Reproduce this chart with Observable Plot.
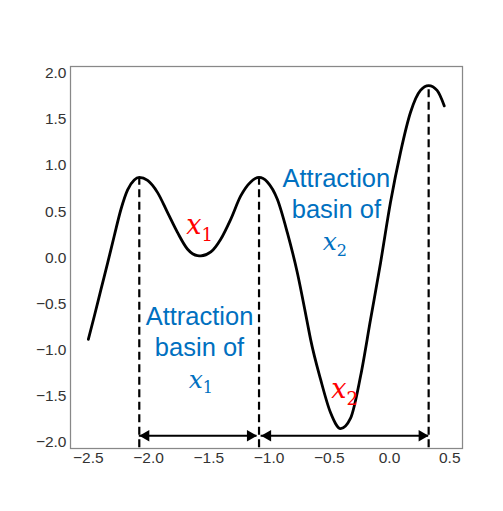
<!DOCTYPE html>
<html><head><meta charset="utf-8">
<script src="https://cdn.jsdelivr.net/npm/d3@7"></script>
<script src="https://cdn.jsdelivr.net/npm/@observablehq/plot@0.6"></script>
<style>
html,body{margin:0;padding:0;background:#fff;}
#topline{position:absolute;top:5px;left:7px;right:0;border-top:1.5px solid #e4e4e4;}
#chart{position:absolute;top:0;left:0;}
</style></head><body>
<div id="topline"></div><div id="chart"></div>
<script>
// Curve f(x), values
const curveX = [-2.500,-2.450,-2.395,-2.339,-2.285,-2.229,-2.174,-2.119,-2.077,-2.008,-1.925,-1.842,-1.759,-1.676,-1.594,-1.566,-1.483,-1.401,-1.318,-1.235,-1.152,-1.083,-1.014,-0.931,-0.848,-0.765,-0.682,-0.655,-0.572,-0.489,-0.406,-0.323,-0.240,-0.157,-0.074,0.008,0.091,0.174,0.257,0.325,0.395,0.455];
const curveY = [-0.885,-0.632,-0.343,-0.054,0.235,0.525,0.735,0.843,0.870,0.837,0.705,0.488,0.271,0.091,0.022,0.020,0.062,0.200,0.416,0.669,0.821,0.870,0.821,0.633,0.271,-0.163,-0.705,-0.885,-1.319,-1.681,-1.852,-1.739,-1.283,-0.668,-0.054,0.597,1.139,1.573,1.813,1.864,1.813,1.645];

// Local maxima bounding the basins
const peakX = [-2.077, -1.083, 0.325];
const peakY = [0.870, 0.870, 1.864];
const dashBottom = -2.06;

// Basin arrows (start, end) at a fixed level
const arrowStart = [-2.077, -1.066];
const arrowEnd = [-1.100, 0.325];
const arrowLevel = -1.93;

// Text annotations
const basinCenterX = [-1.577, -0.441];
const basinLine1Y = [-0.73, 0.767];
const basinLine2Y = [-1.066, 0.434];
const basinWords = ["Attraction", "basin of"];
const basinVarX = [-1.550, -0.437];
const basinVarY = [-1.41, 0.08];
const minLabelX = [-1.560, -0.357];
const minLabelY = [0.254, -1.518];
const subscripts = ["1", "2"];

const xTicks = [-2.5,-2.0,-1.5,-1.0,-0.5,0.0,0.5];
const yTicks = [-2.0,-1.5,-1.0,-0.5,0.0,0.5,1.0,1.5,2.0];

const curve = curveX.map((x,i)=>({x, y: curveY[i]}));
const peaks = peakX.map((x,i)=>({x, y: peakY[i], y0: dashBottom}));
const arrows = arrowStart.map((a,i)=>({x1:a, x2:arrowEnd[i], y:arrowLevel}));
const headsL = arrows.map(d=>({x:d.x1, y:d.y}));
const headsR = arrows.map(d=>({x:d.x2, y:d.y}));
const basinText = [];
basinCenterX.forEach((x,i)=>{
  basinText.push({x, y: basinLine1Y[i], t: basinWords[0]});
  basinText.push({x, y: basinLine2Y[i], t: basinWords[1]});
});
const basinVars = basinVarX.map((x,i)=>({x, y: basinVarY[i], s: subscripts[i]}));
const minVars = minLabelX.map((x,i)=>({x, y: minLabelY[i], s: subscripts[i]}));

const fmt = d => d.toFixed(1).replace("-", "\u2212");
const BLUE = "#0070C0", RED = "#FF0000";
const SANS = "'Liberation Sans', Arial, sans-serif";
const SERIF = "'DejaVu Serif', serif";
const TICKCOL = "#333333";

const chart = Plot.plot({
  width: 503, height: 511,
  marginLeft: 70, marginRight: 41, marginTop: 66, marginBottom: 63,
  style: {fontFamily: SANS, background: "#fff"},
  x: {domain: [-2.648, 0.606], label: null},
  y: {domain: [-2.068, 2.072], label: null},
  marks: [
    Plot.axisX(xTicks, {tickFormat: fmt, tickSize: 0, tickPadding: 3, fontSize: 15.5, fill: TICKCOL, label: null}),
    Plot.axisY(yTicks, {tickFormat: fmt, tickSize: 0, tickPadding: 4, fontSize: 15.5, fill: TICKCOL, label: null}),
    Plot.frame({stroke: "#888", strokeWidth: 1.25}),
    Plot.ruleX(peaks, {x: "x", y1: "y0", y2: "y", stroke: "black", strokeWidth: 2.2, strokeDasharray: "8,4.5"}),
    Plot.ruleY(arrows, {x1: "x1", x2: "x2", y: "y", stroke: "black", strokeWidth: 2}),
    Plot.dot(headsL, {x: "x", y: "y", symbol: "triangle", r: 4.3, rotate: -90, dx: 6.7, fill: "black", stroke: "none"}),
    Plot.dot(headsR, {x: "x", y: "y", symbol: "triangle", r: 4.3, rotate: 90, dx: -6.7, fill: "black", stroke: "none"}),
    Plot.line(curve, {x: "x", y: "y", curve: "monotone-x", stroke: "black", strokeWidth: 2.8}),
    Plot.text(basinText, {x: "x", y: "y", text: "t", fill: BLUE, fontSize: 25.5, fontFamily: SANS, lineAnchor: "bottom", textAnchor: "middle"}),
    Plot.text(basinVars, {x: "x", y: "y", text: () => "x", fill: BLUE, fontSize: 25, fontFamily: SERIF, fontStyle: "italic", lineAnchor: "bottom", textAnchor: "end"}),
    Plot.text(basinVars, {x: "x", y: "y", text: "s", fill: BLUE, fontSize: 16, fontFamily: SERIF, lineAnchor: "bottom", textAnchor: "start", dy: 5.5}),
    Plot.text(minVars, {x: "x", y: "y", text: () => "x", fill: RED, fontSize: 27, fontFamily: SERIF, fontStyle: "italic", lineAnchor: "bottom", textAnchor: "end"}),
    Plot.text(minVars, {x: "x", y: "y", text: "s", fill: RED, fontSize: 18, fontFamily: SERIF, lineAnchor: "bottom", textAnchor: "start", dy: 7})
  ]
});
document.getElementById("chart").appendChild(chart);
</script>
</body></html>
